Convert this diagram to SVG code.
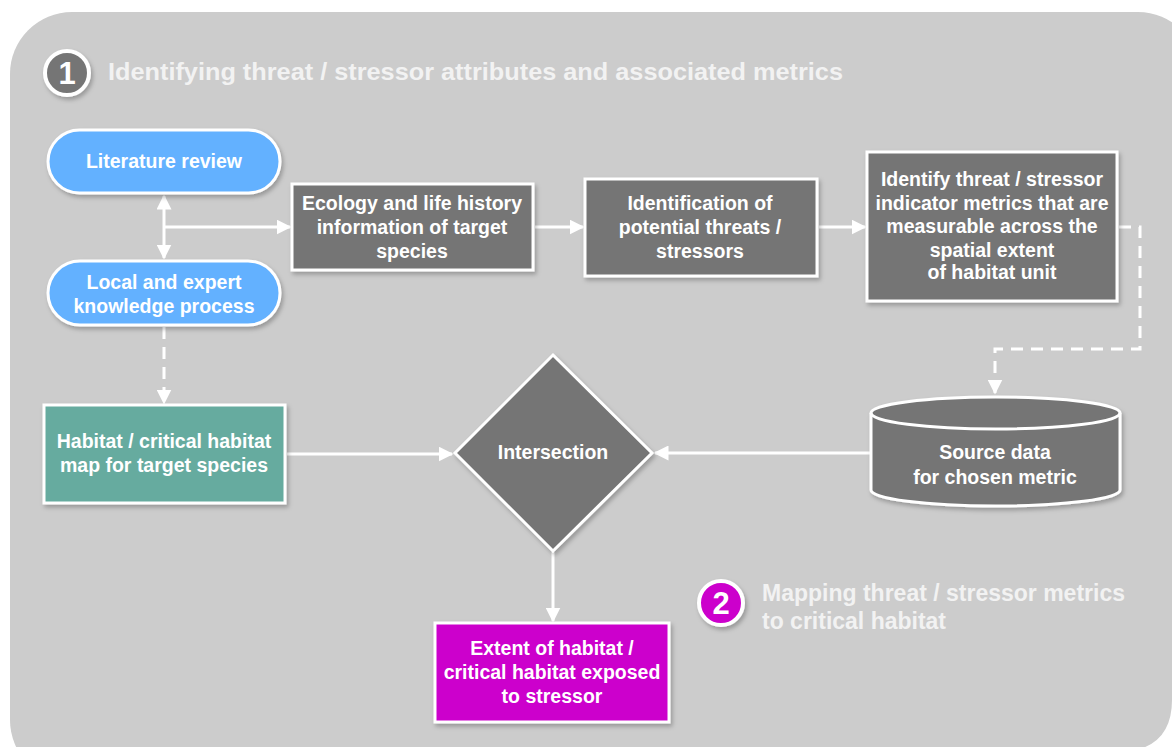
<svg xmlns="http://www.w3.org/2000/svg" width="1172" height="747" viewBox="0 0 1172 747">
<style>
.t{font-family:"Liberation Sans",Arial,sans-serif;font-weight:bold;fill:#ffffff;text-anchor:middle;font-size:19.5px}
.h{font-family:"Liberation Sans",Arial,sans-serif;font-weight:bold;fill:#f2f2f2;font-size:23px}
.box{stroke:#ffffff;stroke-width:3}
.gray{fill:#757575}
.ln{stroke:#ffffff;stroke-width:3;fill:none}
.dash{stroke-dasharray:12 8}
</style>
<defs>
<marker id="ah" viewBox="0 0 10 10" refX="9" refY="5" markerWidth="5" markerHeight="5" orient="auto-start-reverse" markerUnits="strokeWidth">
<path d="M0,0 L10,5 L0,10 z" fill="#ffffff"/>
</marker>
<filter id="sh" x="-10%" y="-10%" width="130%" height="130%">
<feDropShadow dx="2" dy="3" stdDeviation="2" flood-color="#000000" flood-opacity="0.25"/>
</filter>
</defs>
<rect width="1172" height="747" fill="#ffffff"/>
<rect x="10" y="12" width="1190" height="770" rx="62" fill="#cccccc"/>
<path d="M1172,700 Q1172,747 1125,752 L1172,752 z" fill="#ffffff"/>

<g id="title1">
<circle cx="67" cy="73" r="22" fill="#757575" stroke="#ffffff" stroke-width="4" filter="url(#sh)"/>
<text x="67" y="84" class="t" style="font-size:31px">1</text>
<text x="108" y="80" class="h" style="font-size:24px" textLength="735" lengthAdjust="spacingAndGlyphs">Identifying threat / stressor attributes and associated metrics</text>
</g>

<g id="connectors">
<line x1="164" y1="196" x2="164" y2="258" class="ln" marker-start="url(#ah)" marker-end="url(#ah)"/>
<line x1="164" y1="227" x2="290" y2="227" class="ln" marker-end="url(#ah)"/>
<line x1="535" y1="227" x2="583" y2="227" class="ln" marker-end="url(#ah)"/>
<line x1="819" y1="227" x2="865" y2="227" class="ln" marker-end="url(#ah)"/>
<path d="M1119,227 H1140 V349 H995 V393" class="ln dash" marker-end="url(#ah)"/>
<path d="M164,327 V403" class="ln dash" marker-end="url(#ah)"/>
<line x1="287" y1="454" x2="452" y2="454" class="ln" marker-end="url(#ah)"/>
<line x1="870" y1="453" x2="655" y2="453" class="ln" marker-end="url(#ah)"/>
<line x1="553" y1="552" x2="553" y2="621" class="ln" marker-end="url(#ah)"/>
</g>

<g id="literature">
<rect x="48" y="130" width="232" height="63" rx="31.5" fill="#63b1ff" class="box" filter="url(#sh)"/>
<text x="164" y="168" class="t">Literature review</text>
</g>
<g id="local">
<rect x="48" y="261" width="232" height="64" rx="32" fill="#63b1ff" class="box" filter="url(#sh)"/>
<text x="164" y="289" class="t">Local and expert</text>
<text x="164" y="313" class="t">knowledge process</text>
</g>
<g id="ecology">
<rect x="292" y="184" width="241" height="86" class="box gray" filter="url(#sh)"/>
<text x="412" y="210" class="t">Ecology and life history</text>
<text x="412" y="234" class="t">information of target</text>
<text x="412" y="258" class="t">species</text>
</g>
<g id="identification">
<rect x="585" y="179" width="232" height="97" class="box gray" filter="url(#sh)"/>
<text x="700" y="210" class="t">Identification of</text>
<text x="700" y="234" class="t">potential threats /</text>
<text x="700" y="258" class="t">stressors</text>
</g>
<g id="metrics">
<rect x="867" y="152" width="250" height="149" class="box gray" filter="url(#sh)"/>
<text x="992" y="186" class="t">Identify threat / stressor</text>
<text x="992" y="210" class="t">indicator metrics that are</text>
<text x="992" y="233" class="t">measurable across the</text>
<text x="992" y="257" class="t">spatial extent</text>
<text x="992" y="279" class="t">of habitat unit</text>
</g>
<g id="habitat">
<rect x="44" y="405" width="241" height="98" fill="#66ab9f" class="box" filter="url(#sh)"/>
<text x="164" y="448" class="t">Habitat / critical habitat</text>
<text x="164" y="472" class="t">map for target species</text>
</g>
<g id="intersection">
<polygon points="553,355 652,453 553,551 455,453" class="box gray" filter="url(#sh)"/>
<text x="553" y="459" class="t">Intersection</text>
</g>
<g id="source">
<path d="M871,413 V490 A124,16 0 0 0 1120,490 V413 A124.5,16 0 0 0 871,413 z" class="box gray" filter="url(#sh)"/>
<path d="M871,413 A124.5,16 0 0 0 1120,413" class="ln"/>
<text x="995" y="459" class="t">Source data</text>
<text x="995" y="484" class="t">for chosen metric</text>
</g>
<g id="extent">
<rect x="435" y="623" width="234" height="99" fill="#cc00cc" class="box" filter="url(#sh)"/>
<text x="552" y="655" class="t">Extent of habitat /</text>
<text x="552" y="679" class="t">critical habitat exposed</text>
<text x="552" y="703" class="t">to stressor</text>
</g>
<g id="title2">
<circle cx="721" cy="603" r="22" fill="#cc00cc" stroke="#ffffff" stroke-width="4" filter="url(#sh)"/>
<text x="721" y="614" class="t" style="font-size:31px">2</text>
<text x="762" y="601" class="h">Mapping threat / stressor metrics</text>
<text x="762" y="629" class="h">to critical habitat</text>
</g>
</svg>
